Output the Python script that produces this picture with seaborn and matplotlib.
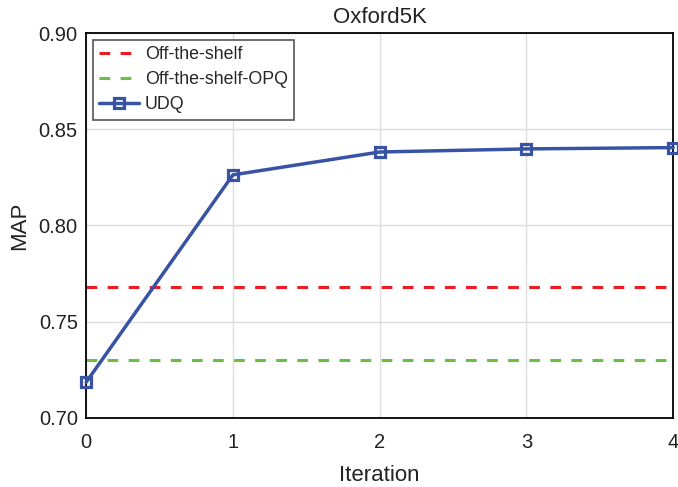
import matplotlib
matplotlib.use("Agg")
import matplotlib.pyplot as plt
import seaborn as sns
import pandas as pd

# Dados
iterations = [0, 1, 2, 3, 4]
udq_map = [0.7185, 0.8263, 0.8382, 0.8398, 0.8405]
off_the_shelf = 0.768
off_the_shelf_opq = 0.730

sns.set_style("whitegrid")
plt.rcParams['font.family'] = ['Liberation Sans', 'DejaVu Sans']

df = pd.DataFrame({'Iteration': iterations, 'MAP': udq_map})

fig = plt.figure(figsize=(6.78, 4.87), dpi=100)
ax = fig.add_axes([0.127, 0.142, 0.866, 0.79])

ax.axhline(off_the_shelf, color='#ed1c24', linestyle=(0, (3.5, 3.4)), linewidth=2.2, label='Off-the-shelf')
ax.axhline(off_the_shelf_opq, color='#6abd45', linestyle=(0, (3.5, 3.4)), linewidth=2.2, label='Off-the-shelf-OPQ')
sns.lineplot(data=df, x='Iteration', y='MAP', ax=ax, color='#3953a4', linewidth=2.5,
             marker='s', markersize=6.5, markerfacecolor='none', markeredgecolor='#3953a4',
             markeredgewidth=2.3, label='UDQ', clip_on=False, zorder=5)

ax.set_xlim(0, 4)
ax.set_ylim(0.70, 0.90)
ax.set_xticks(iterations)
ax.set_yticks([0.70, 0.75, 0.80, 0.85, 0.90])
ax.set_yticklabels(['0.70', '0.75', '0.80', '0.85', '0.90'])
ax.tick_params(labelsize=14.5, colors='#222222', length=0)
ax.tick_params(axis='x', pad=11)
ax.tick_params(axis='y', pad=6)
ax.grid(True, color='#dddddd', linewidth=1)
for s in ax.spines.values():
    s.set_color('black')
    s.set_linewidth(1.3)

ax.set_xlabel('Iteration', fontsize=16, color='#222222', labelpad=9)
ax.set_ylabel('MAP', fontsize=16, color='#222222', labelpad=6)
ax.set_title('Oxford5K', fontsize=16, color='#222222', pad=7)

leg = ax.legend(loc='upper left', fontsize=12.8, fancybox=False, framealpha=1,
                edgecolor='#555555', borderaxespad=0.4, handlelength=2.2,
                handletextpad=0.35, borderpad=0.35, labelspacing=0.45)
leg.get_frame().set_linewidth(1.2)

fig.savefig('out.png', dpi=100)
